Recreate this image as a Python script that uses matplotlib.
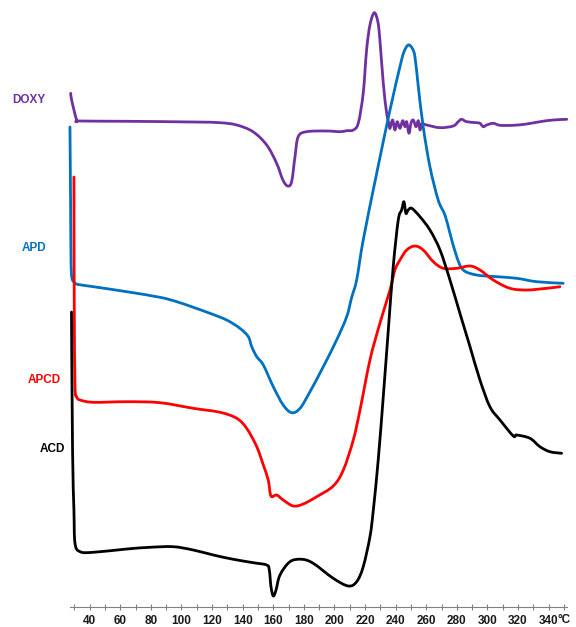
import matplotlib
matplotlib.use("Agg")
import matplotlib.pyplot as plt
import numpy as np
from matplotlib.path import Path
from matplotlib.patches import PathPatch
from matplotlib.ticker import FixedLocator

# ---- data (temperature in °C, heat flow in arbitrary units) ----
doxy_t = [27.6, 28.2, 31.5, 33.7, 64.2, 107.5, 125.2, 136.1, 146.7, 155.7, 162.2, 166.3,
          169.4, 172.0, 174.2, 176.3, 181.8, 194.9, 203.6, 208.0, 212.3, 215.6, 218.8,
          221.0, 223.2, 226.0, 228.4, 229.7, 231.9, 234.1, 235.8, 236.3, 238.0, 239.5,
          241.0, 242.8, 244.6, 246.1, 247.2, 248.7, 250.0, 251.5, 253.3, 254.8, 255.9,
          257.0, 260.3, 269.0, 277.6, 280.9, 283.1, 286.4, 292.9, 295.1, 297.3, 299.5,
          303.8, 308.2, 316.9, 325.6, 334.3, 343.0, 351.8]
doxy_v = [513.7, 507, 487, 486, 485.7, 485, 484.3, 482, 475.3, 462, 443.7, 427,
          421, 425.3, 450.3, 470.3, 475.3, 476, 475.3, 476.3, 477, 484, 514,
          557, 582, 594.3, 585, 567, 524, 494, 482, 478.7, 487, 477,
          485.3, 478.7, 486.3, 480.3, 485.3, 473.7, 483.7, 487, 480.3, 486.3, 477,
          483, 482, 479.3, 481, 485.3, 487.7, 485.3, 484.3, 483.7, 480.3, 482,
          483.7, 481.7, 481.7, 483, 485.3, 487, 487.7]

apd_t = [27.1, 27.5, 27.8, 28.4, 30.4, 32.5, 42.4, 64.2, 85.9, 96.9, 107.7, 118.6, 129.5,
         138.2, 143.7, 145.9, 149.2, 153.5, 160.0, 166.5, 172.0, 177.5, 184.0, 192.7,
         201.4, 208.0, 211.2, 214.5, 218.8, 227.6, 236.3, 242.8, 245.4, 248.2, 250.7,
         252.6, 254.8, 258.0, 262.4, 267.8, 272.2, 275.5, 279.9, 284.2, 292.9, 306.0,
         319.1, 332.2, 349.5]
apd_v = [480, 407, 347, 329, 324, 322.5, 320.3, 315.3, 309.7, 305.3, 299.7, 293.7, 287,
         278.7, 270.3, 260.3, 250.3, 242, 220.3, 202, 194.3, 198.7, 215.3, 240.3,
         267, 290.3, 309.3, 327, 367, 433.7, 497, 540.3, 555, 562, 559,
         550.3, 520.3, 480.3, 440.3, 407, 392, 373.7, 350.3, 337, 332, 330.3,
         328.7, 325.3, 323.7]

apcd_t = [29.7, 29.9, 30.4, 31.5, 33.7, 42.4, 64.2, 85.9, 107.7, 125.2, 136.1, 142.6,
          149.2, 153.5, 156.7, 158.5, 162.2, 166.5, 173.1, 179.6, 188.4, 199.2, 205.8,
          212.3, 216.7, 223.2, 229.7, 236.3, 239.5, 242.8, 247.2, 252.6, 258.0, 264.6,
          271.1, 279.9, 288.6, 295.1, 303.8, 314.7, 325.6, 338.7, 347.4]
apcd_v = [430, 307, 222, 210.3, 207, 204.7, 205.3, 204.3, 198.7, 194.7, 188.7, 178.7,
          160.3, 142, 127, 111, 112, 107, 101, 103, 110.3, 121, 137,
          167, 197, 247, 283.7, 317, 337, 347, 357, 361, 357, 345.3,
          338.7, 338.7, 341, 337, 327, 318.7, 317, 318.7, 320.3]

acd_t = [28.1, 28.8, 29.7, 30.4, 33.7, 42.4, 64.2, 79.4, 94.6, 107.7, 120.8, 133.9,
         146.9, 155.7, 157.4, 158.5, 160.0, 161.8, 164.4, 170.9, 178.6, 186.1, 199.2,
         209.0, 214.5, 218.8, 223.2, 225.4, 228.6, 231.9, 235.2, 238.4, 241.7, 243.9,
         245.4, 246.7, 248.2, 250.5, 255.9, 262.4, 269.0, 275.5, 282.0, 288.6, 295.1,
         301.6, 308.2, 316.9, 319.1, 327.8, 334.3, 340.8, 348.5]
acd_v = [295, 157, 97, 63.7, 55.3, 54.7, 58, 59.7, 60.3, 57, 52, 47.7,
         44.3, 42, 37, 20.3, 11, 17, 32, 45.3, 47.7, 43.7, 28.7,
         21, 25.3, 40.3, 70.3, 97, 147, 210.3, 277, 340.3, 387, 397,
         405.3, 393.7, 397, 398.7, 390.3, 377, 357, 327, 293.7, 260.3, 227,
         200.3, 187, 171, 172, 168.7, 160.3, 155.3, 153.7]

series_names = ["DOXY", "APD", "APCD", "ACD"]
series_colors = ["#7030A0", "#0070C0", "#FF0000", "#000000"]
tick_labels = [str(v) for v in range(40, 341, 20)]


def smooth_path(t, v):
    """Bezier path through the points (Catmull-Rom control handles)."""
    p = np.column_stack([t, v]).astype(float)
    n = len(p)
    verts = [p[0]]
    codes = [Path.MOVETO]
    for i in range(n - 1):
        p0 = p[i - 1] if i > 0 else p[i]
        p1, p2 = p[i], p[i + 1]
        p3 = p[i + 2] if i + 2 < n else p[i + 1]
        c1 = p1 + (p2 - p0) / 6.0
        c2 = p2 - (p3 - p1) / 6.0
        verts += [c1, c2, p2]
        codes += [Path.CURVE4] * 3
    return Path(np.array(verts), codes)


# ---- figure ----
W, H = 576, 627
fig = plt.figure(figsize=(W / 100, H / 100), dpi=100)
x0, x1 = 69.8, 567.0
ax = fig.add_axes([x0 / W, 20 / H, (x1 - x0) / W, 607 / H])

data = [(doxy_t, doxy_v), (apd_t, apd_v), (apcd_t, apcd_v), (acd_t, acd_v)]
for (t, v), c in zip(data, series_colors):
    patch = PathPatch(smooth_path(t, v), facecolor="none", edgecolor=c, lw=2.0,
                      joinstyle="round", capstyle="round", clip_on=False)
    ax.add_patch(patch)

ax.set_xlim(27, 352)
ax.set_ylim(0, 607)
for s in ["top", "right", "left"]:
    ax.spines[s].set_visible(False)
ax.spines["bottom"].set_color("#808080")
ax.spines["bottom"].set_linewidth(0.8)
ax.set_yticks([])

ax.xaxis.set_major_locator(FixedLocator(list(range(40, 341, 20))))
ax.xaxis.set_minor_locator(FixedLocator(list(range(30, 351, 20))))
ax.set_xticklabels(tick_labels)
ax.tick_params(axis="x", which="both", direction="inout", length=5, width=0.8,
               color="#808080", pad=3)
for lab in ax.get_xticklabels():
    lab.set_fontfamily("Liberation Sans")
    lab.set_fontweight("bold")
    lab.set_fontsize(8.5)
    lab.set_color("#1a1a1a")

fig.text(558 / W, 1 - 620 / H, "°C", ha="left", va="center",
         fontsize=8.5, fontweight="bold", family="Liberation Sans", color="#1a1a1a")

label_pos = [(12, 100), (22, 248), (28, 380), (40, 449)]
for name, c, (px, py) in zip(series_names, series_colors, label_pos):
    fig.text(px / W, 1 - py / H, name, ha="left", va="center", color=c,
             fontsize=8.5, fontweight="bold", family="Liberation Sans")

fig.savefig("out.png", dpi=100)
